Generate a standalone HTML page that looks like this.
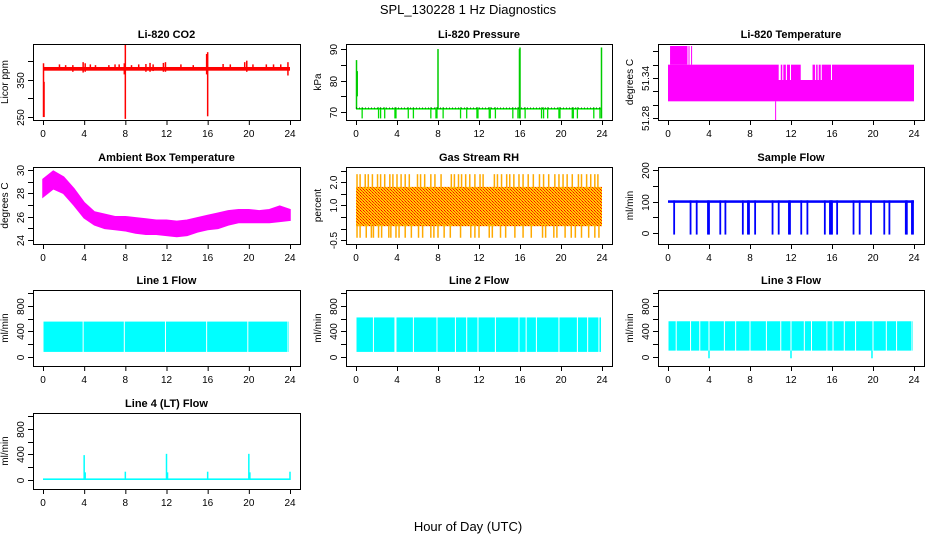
<!DOCTYPE html>
<html><head><meta charset="utf-8"><style>
html,body{margin:0;padding:0;background:#fff;}
svg{display:block;font-family:"Liberation Sans",Arial,sans-serif;}
</style></head><body>
<svg id="c" width="936" height="540" viewBox="0 0 936 540">
<defs>
<pattern id="rhpat" width="3" height="3" patternUnits="userSpaceOnUse">
<rect width="3" height="3" fill="#ffcc00"/><rect width="1" height="1" fill="#ff0000"/><rect x="1" y="1" width="1" height="1" fill="#ff2200"/><rect x="2" y="2" width="1" height="1" fill="#ff4400"/>
</pattern>
</defs>
<text x="468" y="14" text-anchor="middle" font-size="13">SPL_130228  1 Hz Diagnostics</text>
<text x="468" y="531" text-anchor="middle" font-size="13">Hour of Day (UTC)</text>
</svg>
<script>
// ---- data ----
const xTicks=[0,4,8,12,16,20,24];
// CO2
const co2Bands=[[0,24,375,385]];
const co2Spikes=[[0.05,250,395],[0.1,250,345],[8,245,445],[16,252,425],[15.9,365,420],[1.6,378,392],[2.2,378,390],[2.9,372,390],[3.9,370,398],[4.1,372,395],[4.6,376,392],[5.1,376,390],[6.4,378,390],[7.0,378,392],[7.4,378,392],[7.9,365,395],[8.6,376,390],[9.3,376,392],[10.0,372,393],[10.4,372,396],[10.7,374,392],[11.7,372,396],[11.9,372,398],[13.4,376,392],[14.6,376,390],[17.5,378,393],[18.2,378,392],[19.6,378,398],[19.8,372,402],[20.4,378,392],[21.7,378,392],[22.4,378,392],[23.1,376,392],[23.8,362,398]];
// Pressure
const presBase=[[0,24,70.8,71.3]];
const presSpikes=[[0.05,71,86.5],[0.12,75,83],[8,71,90],[16,68,90.5],[15.95,68,90],[23.95,68,90.5]];
const presDips=[0.6,2.2,2.4,2.8,3.8,3.9,5.1,5.6,7.3,7.8,7.9,8.5,10.2,10.8,11.8,11.9,13.0,13.1,13.6,15.3,15.8,16.5,18.1,18.3,18.7,19.8,19.9,21.1,21.2,21.6,23.2,23.8];
// Li-820 temperature
const tempBands=[[0,24,51.305,51.337],[0,10.8,51.337,51.36],[16,24,51.337,51.36],[0.2,1.9,51.36,51.388],[2.0,2.1,51.36,51.388],[2.25,2.35,51.36,51.388],[11.0,11.15,51.337,51.36],[11.25,11.5,51.337,51.36],[11.6,11.9,51.337,51.36],[12.0,12.95,51.337,51.36],[14.1,14.35,51.337,51.36],[14.45,14.6,51.337,51.36],[14.7,14.9,51.337,51.36],[15.0,15.9,51.337,51.36]];
const tempSpikes=[[10.5,51.277,51.305]];
// Ambient box temperature (hourly envelope)
const ambHours=[0,1,2,3,4,5,6,7,8,9,10,11,12,13,14,15,16,17,18,19,20,21,22,23,24];
const ambLo=[27.7,28.4,28.0,27.0,25.9,25.3,25.0,24.9,24.8,24.6,24.5,24.5,24.4,24.3,24.4,24.7,24.9,25.0,25.3,25.5,25.5,25.5,25.5,25.6,25.7];
const ambHi=[29.2,29.9,29.4,28.4,27.2,26.4,26.2,26.0,26.0,25.9,25.8,25.7,25.7,25.6,25.7,25.9,26.1,26.3,26.5,26.6,26.6,26.5,26.6,26.9,26.6];
// Gas stream RH
const rhBands=[[0,24,0.1,1.8]];
const rhUp=[0.1,0.4,0.9,1.2,1.6,2.1,2.4,2.8,3.3,3.6,4.0,4.4,4.8,5.2,6.0,6.3,6.7,7.3,7.7,8.3,9.3,9.6,10.0,10.3,10.7,11.1,11.6,12.1,12.4,13.5,13.8,14.2,14.7,15.0,15.4,15.9,16.3,16.8,17.3,17.9,18.3,18.8,19.4,19.8,20.2,20.6,21.1,21.7,22.0,22.5,22.9,23.3,23.6];
const rhDown=[0.1,0.4,1.0,1.5,1.7,2.2,2.5,3.2,3.4,3.9,4.2,4.8,5.4,6.1,6.5,7.3,7.6,8.0,8.6,9.2,10.2,11.2,11.6,12.0,13.0,13.3,14.1,14.6,15.5,16.3,17.1,18.2,18.5,19.3,19.6,20.4,21.0,21.4,22.0,22.7,23.3,23.7];
// Sample flow
const sfBands=[[0,24,96,104]];
const sfDrops=[0.6,2.2,2.8,3.9,4.0,5.1,5.6,7.3,7.8,7.9,8.5,10.2,10.8,11.8,11.9,13.0,13.6,15.3,15.8,15.9,16.0,16.5,18.1,18.7,19.8,21.1,21.6,23.2,23.3,23.8,23.9];
// Line flows
const l1Band=[0.05,23.9,80,555];
const l1Gaps=[3.9,7.9,11.9,15.9,19.9,23.8];
const l2Band=[0.05,23.9,80,620];
const l2Gaps=[1.7,3.8,3.9,5.6,7.9,9.7,10.8,11.9,13.6,15.9,16.6,17.6,19.8,21.6,22.6,23.7];
const l3Band=[0.05,23.9,100,560];
const l3Gaps=[0.8,2.2,3.1,4.0,5.5,6.6,8.0,9.6,11.0,12.0,13.3,14.0,15.5,16.1,17.2,18.3,20.0,21.3,22.3,23.8];
const l4Band=[0,24,0,25];
const l4Spikes=[[4,0,390],[4.1,0,120],[8,0,130],[12,0,410],[12.1,0,120],[16,0,130],[20,0,410],[20.1,0,120],[24,0,130]];

// ---- rendering ----
const svg=document.getElementById('c');
const NS='http://www.w3.org/2000/svg';
function mk(tag,attrs,parent){const e=document.createElementNS(NS,tag);for(const k in attrs)e.setAttribute(k,attrs[k]);(parent||svg).appendChild(e);return e;}
const cols=[[33,300],[346,612],[658,924]];
const rows=[[44,120],[167,244],[290,366],[413,489]];
function panel(name,col,row,title,ylab,ymin,ymax,yticks,ylabels){
  const [L,R]=cols[col],[T,B]=rows[row];
  const g=mk('g',{});
  
  
  const x=h=>L+10+h/24*(R-L-20);
  const y=v=>B-(v-ymin)/(ymax-ymin)*(B-T);
  const t=mk('text',{x:(L+R)/2,y:T-6,'text-anchor':'middle','font-size':11,'font-weight':'bold'},g);t.textContent=title;
  
  
  const plot=mk('g',{},g);
  
  
  const box=mk('rect',{x:L+0.5,y:T+0.5,width:R-L,height:B-T,fill:'none',stroke:'#000'},g);
  
  
  const xa=mk('g',{},g);
  
  
  mk('line',{x1:x(0),x2:x(24),y1:B+0.5,y2:B+0.5,stroke:'#000'},xa);
  xTicks.forEach(h=>{mk('line',{x1:x(h)+0.5,x2:x(h)+0.5,y1:B,y2:B+5,stroke:'#000'},xa);
    const tl=mk('text',{x:x(h),y:B+17,'text-anchor':'middle','font-size':10},xa);tl.textContent=h;});
  const ya=mk('g',{},g);
  
  
  mk('line',{x1:L+0.5,x2:L+0.5,y1:y(yticks[0]),y2:y(yticks[yticks.length-1]),stroke:'#000'},ya);
  yticks.forEach((v,i)=>{const yy=Math.round(y(v))+0.5;mk('line',{x1:L-5,x2:L,y1:yy,y2:yy,stroke:'#000'},ya);
    if(ylabels[i]!==''){const tl=mk('text',{x:0,y:0,'text-anchor':'middle','font-size':10,transform:`translate(${L-9},${yy}) rotate(-90)`},ya);tl.textContent=ylabels[i];}});
  const yl=mk('text',{x:0,y:0,'text-anchor':'middle','font-size':10,transform:`translate(${L-25},${(T+B)/2}) rotate(-90)`},g);yl.textContent=ylab;
  
  
  return {x,y,plot};
}
function bands(p,arr,color){arr.forEach(b=>{const r=mk('rect',{x:p.x(b[0]),y:p.y(b[3]),width:Math.max(1,p.x(b[1])-p.x(b[0])),height:Math.max(1,p.y(b[2])-p.y(b[3])),fill:color},p.plot);
  
  });}
function spikes(p,arr,color,w){arr.forEach(s=>{const l=mk('line',{x1:p.x(s[0]),x2:p.x(s[0]),y1:p.y(s[1]),y2:p.y(s[2]),stroke:color,'stroke-width':w||1},p.plot);
  
  });}
function gaps(p,arr,lo,hi){arr.forEach(h=>{const l=mk('line',{x1:p.x(h),x2:p.x(h),y1:p.y(hi)-1,y2:p.y(lo)+1,stroke:'#fff','stroke-width':1},p.plot);
  
  });}

// CO2
let p=panel('co2',0,0,'Li-820 CO2','Licor ppm',242,447,[250,300,350,400],['250','','350','']);
bands(p,co2Bands,'#ff0000');spikes(p,co2Spikes,'#ff0000',1.5);
// Pressure
p=panel('pressure',1,0,'Li-820 Pressure','kPa',67.5,91.6,[70,75,80,85,90],['70','','80','','90']);
bands(p,presBase,'#00ee00');
spikes(p,presSpikes,'#00cc00',1.5);
spikes(p,presDips.map(h=>[h,68,71.5]),'#00dd00',1.3);
mk('line',{x1:p.x(0),x2:p.x(24),y1:p.y(71.3),y2:p.y(71.3),stroke:'#000','stroke-dasharray':'1,2','stroke-width':0.8},p.plot);
// Temperature
p=panel('temperature',2,0,'Li-820 Temperature','degrees C',51.277,51.391,[51.28,51.30,51.32,51.34,51.36,51.38],['51.28','','','51.34','','']);
bands(p,tempBands,'#ff00ff');spikes(p,tempSpikes,'#ff00ff',1);
// Ambient
p=panel('ambient',0,1,'Ambient Box Temperature','degrees C',23.66,30.26,[24,25,26,27,28,29,30],['24','','26','','28','','30']);
(function(){const pts=ambHours.map((h,i)=>p.x(h)+','+p.y(ambHi[i])).concat(ambHours.slice().reverse().map((h,j)=>{const i=ambHours.length-1-j;return p.x(h)+','+p.y(ambLo[i]);}));
 const pg=mk('polygon',{points:pts.join(' '),fill:'#ff00ff',stroke:'#ff00ff','stroke-width':1.5},p.plot);
 
 })();
// RH
p=panel('rh',1,1,'Gas Stream RH','percent',-0.67,2.66,[-0.5,0,0.5,1,1.5,2,2.5],['-0.5','','','1.0','','2.0','']);
bands(p,rhBands,'url(#rhpat)');
spikes(p,rhUp.map(h=>[h,1.7,2.35]),'#ffaa00',1.5);
spikes(p,rhDown.map(h=>[h,-0.4,0.2]),'#ffaa00',1.5);
// Sample flow
p=panel('sample-flow',2,1,'Sample Flow','ml/min',-35,210,[0,50,100,150,200],['0','','100','','200']);
bands(p,sfBands,'#0000ff');
spikes(p,sfDrops.map(h=>[h,-5,104]),'#0000ff',1.8);
// Line flows
const fT=[0,200,400,600,800,1000],fL=['0','','400','','800',''];
p=panel('line1-flow',0,2,'Line 1 Flow','ml/min',-141,1050,fT,fL);
bands(p,[[l1Band[0],l1Band[1],l1Band[2],l1Band[3]]],'#00ffff');gaps(p,l1Gaps,l1Band[2],l1Band[3]);
p=panel('line2-flow',1,2,'Line 2 Flow','ml/min',-141,1050,fT,fL);
bands(p,[[l2Band[0],l2Band[1],l2Band[2],l2Band[3]]],'#00ffff');gaps(p,l2Gaps,l2Band[2],l2Band[3]);
p=panel('line3-flow',2,2,'Line 3 Flow','ml/min',-141,1050,fT,fL);
bands(p,[[l3Band[0],l3Band[1],l3Band[2],l3Band[3]]],'#00ffff');gaps(p,l3Gaps,l3Band[2],l3Band[3]);
spikes(p,[[4.0,-20,100],[12.0,-20,100],[19.9,-20,100]],'#00ffff',1.5);
p=panel('line4-flow',0,3,'Line 4 (LT) Flow','ml/min',-141,1050,fT,fL);
bands(p,[l4Band],'#00ffff');spikes(p,l4Spikes,'#00ffff',1.5);
</script>
</body></html>
